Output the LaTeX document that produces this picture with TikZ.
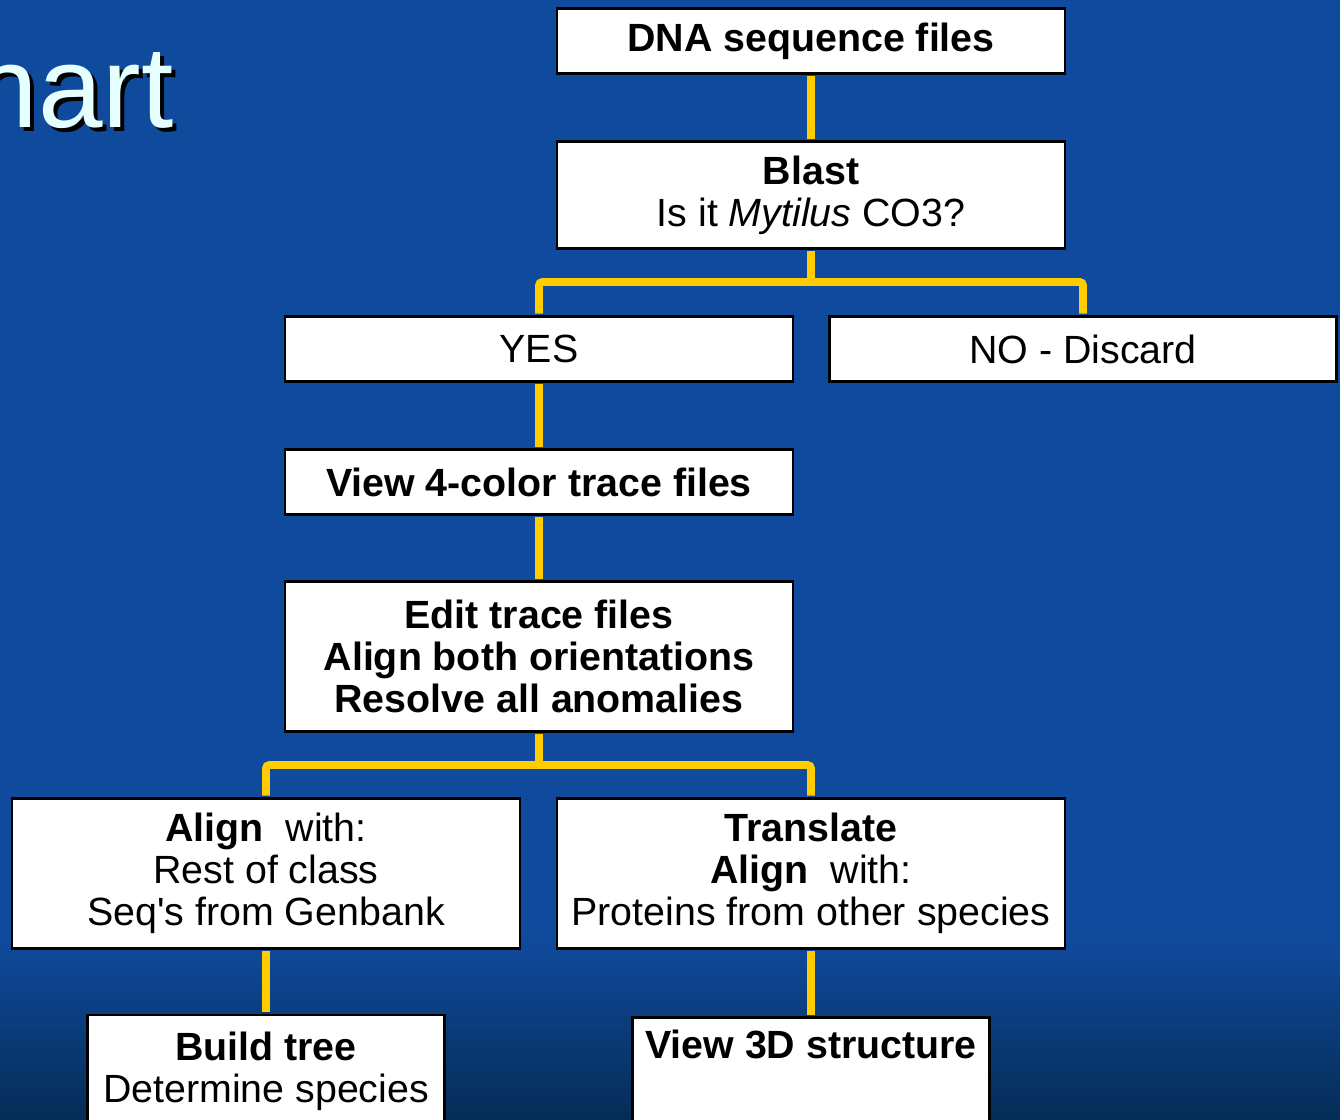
\documentclass[tikz,border=0pt]{standalone}
\usepackage{fontspec}
\setmainfont{Liberation Sans}
\definecolor{bgblue}{RGB}{16,74,156}
\definecolor{bgdark}{RGB}{5,44,86}
\definecolor{linkyellow}{RGB}{255,204,0}
\definecolor{titlecyan}{RGB}{230,255,255}

\begin{document}
\begin{tikzpicture}[x=0.02cm,y=-0.02cm,
    box/.style={draw=black,fill=white,line width=1.6pt,inner sep=0pt,align=center,
      font=\fontsize{22.4}{24}\selectfont},
    wide/.style={minimum width=10.16cm},
    narrow/.style={minimum width=7.14cm},
    link/.style={draw=linkyellow,line width=4.5pt,rounded corners=2pt,
      shorten <=0.85pt,shorten >=0.85pt},
    title/.style={font=\fontsize{66}{70}\selectfont,anchor=base east,inner sep=0pt}]

  % slide background
  \useasboundingbox (0,0) rectangle (1340,1120);
  \clip (0,0) rectangle (1340,1120);
  \fill[bgblue] (0,0) rectangle (1340,945);
  \shade[top color=bgblue,bottom color=bgdark] (0,940) rectangle (1340,1120);

  % title, cut off at the left
  \node[title,text=black] (ttlshadow) at (178,131) {Flowchart};
  \node[title,text=titlecyan] (ttl) at (174,127) {Flowchart};

  % boxes
  \node[box,wide,minimum height=1.3cm] (dna) at (811,41) {\textbf{DNA sequence files}};
  \node[box,wide,minimum height=2.14cm] (blast) at (811,195)
    {\textbf{Blast}\\Is it \textit{Mytilus} CO3?};
  \node[box,wide,minimum height=1.3cm] (yes) at (539,349) {YES};
  \node[box,minimum width=10.14cm,minimum height=1.3cm] (no) at (1083,349) {NO - Discard};
  \node[box,wide,minimum height=1.3cm] (view4) at (539,482) {\textbf{View 4-color trace files}};
  \node[box,wide,minimum height=3.0cm] (edit) at (539,656.5)
    {\textbf{Edit trace files}\\\textbf{Align both orientations}\\\textbf{Resolve all anomalies}};
  \node[box,wide,minimum height=3.0cm] (alignn) at (266,873.5)
    {\textbf{Align}~ with:\\Rest of class\\Seq\textquotesingle s from Genbank};
  \node[box,wide,minimum height=3.0cm] (transl) at (811,873.5)
    {\textbf{Translate}\\\textbf{Align}~ with:\\Proteins from other species};
  \node[box,narrow,minimum height=2.24cm] (tree) at (266,1071)
    {\textbf{Build tree}\\Determine species};
  \node[box,narrow,anchor=north,inner ysep=0.26cm,text depth=1.6cm] (view3d) at (811,1016)
    {\textbf{View 3D structure}};

  % connectors
  \coordinate (fork1) at (811,282);
  \coordinate (fork2) at (539,765);
  \draw[link] (dna) -- (blast);
  \draw[link] (blast) -- (fork1);
  \draw[link] (yes.north) |- (fork1) -| (no.north);
  \draw[link] (yes) -- (view4);
  \draw[link] (view4) -- (edit);
  \draw[link] (edit) -- (fork2);
  \draw[link] (alignn.north) |- (fork2) -| (transl.north);
  \draw[link] (alignn) -- (tree);
  \draw[link] (transl) -- (view3d);
\end{tikzpicture}
\end{document}
